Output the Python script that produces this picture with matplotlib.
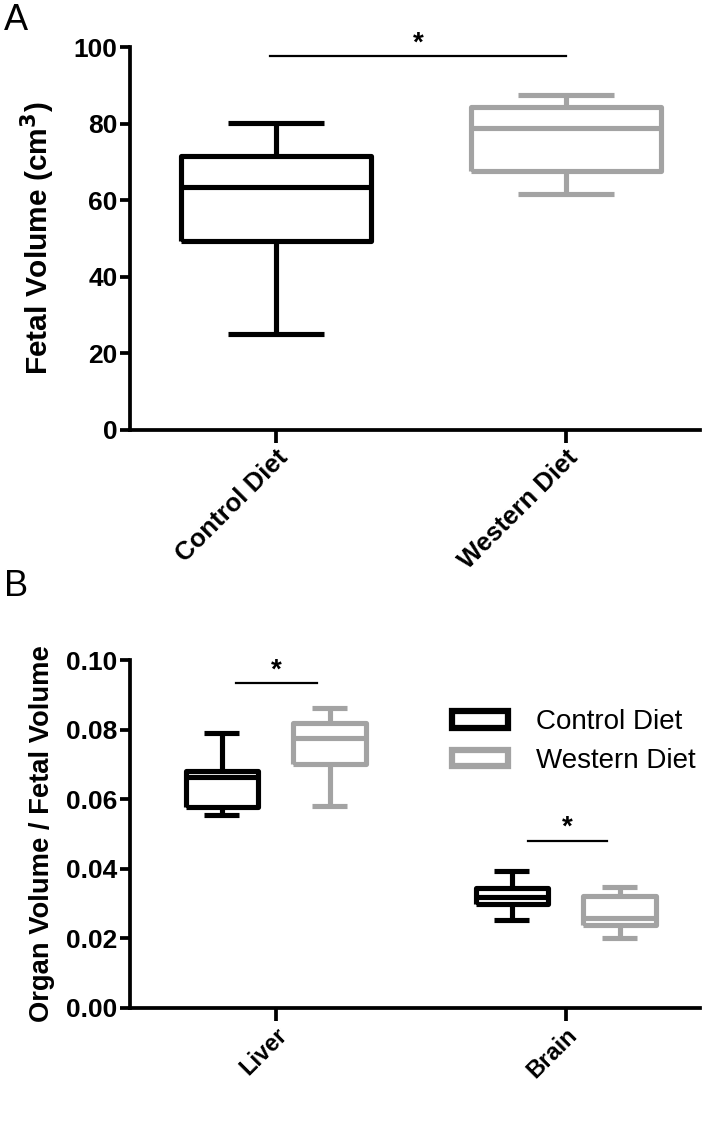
import numpy as np
import matplotlib
matplotlib.use("Agg")
import matplotlib.pyplot as plt
from matplotlib.patches import Patch
from matplotlib.ticker import FormatStrFormatter

plt.rcParams['font.family'] = ['Liberation Sans', 'DejaVu Sans']

BLACK = '#000000'
GREY = '#a3a3a3'

# Panel A: fetal volume (cm^3) - whislo, q1, median, q3, whishi
groups_a = ['Control Diet', 'Western Diet']
control_a = [25.0, 49.3, 63.5, 71.6, 80.2]
western_a = [61.5, 67.7, 78.8, 84.4, 87.5]

# Panel B: organ volume / fetal volume
organs = ['Liver', 'Brain']
control_b = [[0.0555, 0.0579, 0.0665, 0.0682, 0.0790],
             [0.0252, 0.0299, 0.0318, 0.0345, 0.0394]]
western_b = [[0.0581, 0.0701, 0.0775, 0.0818, 0.0863],
             [0.0201, 0.0239, 0.0258, 0.0322, 0.0347]]

# significance bars: (x start, x end, y)
sig_a = [(0.98, 2.0, 97.6)]
sig_b = [(0.862, 1.141, 0.0933), (1.869, 2.141, 0.0481)]


def stats(v):
    return dict(whislo=v[0], q1=v[1], med=v[2], q3=v[3], whishi=v[4], fliers=[])


def draw(ax, vals, pos, width, capw, color, lw=3.7):
    props = dict(color=color, linewidth=lw, solid_joinstyle='round',
                 solid_capstyle='butt')
    ax.bxp([stats(v) for v in vals], positions=pos, widths=width,
           capwidths=capw, showfliers=False,
           boxprops=props, whiskerprops=props, capprops=props,
           medianprops=props, manage_ticks=False)


def style(ax, xsize):
    for s in ['top', 'right']:
        ax.spines[s].set_visible(False)
    for s in ['left', 'bottom']:
        ax.spines[s].set_linewidth(2.7)
    ax.tick_params(axis='y', width=2.7, length=7, labelsize=19, pad=2)
    ax.tick_params(axis='x', width=2.7, length=9, labelsize=xsize, pad=2)
    for t in ax.get_yticklabels() + ax.get_xticklabels():
        t.set_fontweight('bold')


def sig(ax, bars, size=20):
    for x1, x2, y in bars:
        ax.plot([x1, x2], [y, y], color=BLACK, lw=1.6, clip_on=False)
        ax.text((x1 + x2) / 2, y, '*', ha='center', va='bottom',
                fontsize=size, fontweight='bold', clip_on=False)


fig = plt.figure(figsize=(7.14, 11.36), dpi=100)

# ---- Panel A
axA = fig.add_axes([0.182, 0.6215, 0.798, 0.3371])
draw(axA, [control_a], [1], 0.655, 0.33, BLACK)
draw(axA, [western_a], [2], 0.655, 0.33, GREY)
axA.set_xlim(0.497, 2.462)
axA.set_ylim(0, 100)
axA.set_yticks(np.arange(0, 101, 20))
axA.set_xticks([1, 2])
axA.set_xticklabels(groups_a, rotation=45, ha='right', rotation_mode='anchor')
axA.set_ylabel('Fetal Volume (cm$^\\mathbf{3}$)', fontsize=21.5, fontweight='bold',
               labelpad=12)
style(axA, 18.5)
sig(axA, sig_a)
fig.text(0.006, 0.997, 'A', fontsize=26, va='top', ha='left')

# ---- Panel B
off = 0.186
axB = fig.add_axes([0.182, 0.1127, 0.798, 0.3063])
pos = np.arange(1, len(organs) + 1)
draw(axB, control_b, pos - off, 0.25, 0.12, BLACK)
draw(axB, western_b, pos + off, 0.25, 0.12, GREY)
axB.set_xlim(0.497, 2.462)
axB.set_ylim(0, 0.1)
axB.set_yticks(np.arange(0, 0.101, 0.02))
axB.yaxis.set_major_formatter(FormatStrFormatter('%.2f'))
axB.set_xticks(pos)
axB.set_xticklabels(organs, rotation=45, ha='right', rotation_mode='anchor')
axB.set_ylabel('Organ Volume / Fetal Volume', fontsize=19.7, fontweight='bold',
               labelpad=8)
style(axB, 17)
sig(axB, sig_b)
fig.text(0.006, 0.499, 'B', fontsize=26, va='top', ha='left')

handles = [Patch(facecolor='white', edgecolor=BLACK, linewidth=4.5, joinstyle='round'),
           Patch(facecolor='white', edgecolor=GREY, linewidth=4.5, joinstyle='round')]
axB.legend(handles, ['Control Diet', 'Western Diet'], loc='upper left',
           bbox_to_anchor=(0.522, 0.93), frameon=False, fontsize=20,
           handlelength=2.0, handleheight=0.55, handletextpad=1.0,
           labelspacing=0.45)

fig.savefig('out.png', dpi=100)
